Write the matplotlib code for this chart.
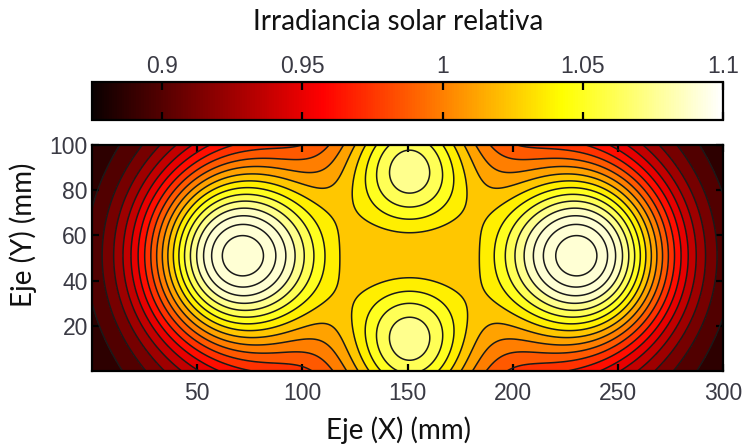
import numpy as np
import matplotlib.pyplot as plt
from matplotlib.colors import Normalize
from matplotlib.cm import ScalarMappable

# gaussian sources on the target plane (mm): four lamps, the inner flanks of
# the side beams, and a shallow dip where the four beams overlap least
src_x = [66.0, 236.0, 151.0, 151.0, 100.0, 202.0, 151.0]
src_y = [51.0, 51.0, 89.0, 13.5, 51.0, 51.0, 51.0]
src_amp = [0.21, 0.21, 0.097, 0.097, 0.012, 0.012, -0.008]
src_sigma = [30.0, 30.0, 22.0, 22.0, 20.0, 20.0, 15.0]

# background shared by all lamps, falling off towards the x edges
base_level = 0.874
plateau_amp = 0.102
plateau_center = 151.0
plateau_width = 60.0

# contour levels and colour scale
contour_levels = np.arange(0.8805, 1.12, 0.0125)
cbar_ticks = [0.9, 0.95, 1.0, 1.05, 1.1]
cbar_labels = ['0.9', '0.95', '1', '1.05', '1.1']
x_ticks = [50, 100, 150, 200, 250, 300]
y_ticks = [20, 40, 60, 80, 100]
vmin, vmax = 0.875, 1.1


def irradiance(x, y):
    field = base_level + plateau_amp * np.exp(-(x - plateau_center) ** 2 / (2 * plateau_width ** 2))
    for xc, yc, a, s in zip(src_x, src_y, src_amp, src_sigma):
        r2 = (x - xc) ** 2 + (y - yc) ** 2
        field = field + a * np.exp(-r2 / (2 * s ** 2))
    return field


def main():
    xx, yy = np.meshgrid(np.linspace(0, 300, 601), np.linspace(0, 100, 201))
    zz = irradiance(xx, yy)

    fig = plt.figure(figsize=(7.45, 4.45), dpi=100)
    ax = fig.add_axes([92 / 745, 1 - 371 / 445, 631 / 745, 226 / 445])
    cax = fig.add_axes([92 / 745, 1 - 120 / 445, 631 / 745, 38 / 445])

    cmap = plt.get_cmap('hot')
    norm = Normalize(vmin=vmin, vmax=vmax)

    # one flat colour per band, taken at the band centre
    step = contour_levels[1] - contour_levels[0]
    fill_levels = np.concatenate([[0.80], contour_levels, [1.2]])
    mids = np.concatenate([[contour_levels[0] - step / 2], contour_levels + step / 2])
    band_colors = [cmap(min(norm(m), 0.955)) for m in mids]
    ax.contourf(xx, yy, zz, levels=fill_levels, colors=band_colors)
    ax.contour(xx, yy, zz, levels=contour_levels, colors='#1a1a1a', linewidths=1.1)

    ax.set_xlim(0, 300)
    ax.set_ylim(0, 100)
    ax.set_xticks(x_ticks)
    ax.set_yticks(y_ticks)
    tick_font = dict(family='Liberation Sans', size=16.5)
    ax.set_xticklabels([str(t) for t in x_ticks], **tick_font)
    ax.set_yticklabels([str(t) for t in y_ticks], **tick_font)
    ax.tick_params(direction='in', length=5, width=1.6, top=True, right=True,
                   colors='black', labelcolor='#3a3a44')
    ax.tick_params(axis='x', pad=8)
    ax.tick_params(axis='y', pad=3)
    for sp in ax.spines.values():
        sp.set_linewidth(1.6)

    cb = fig.colorbar(ScalarMappable(norm=norm, cmap=cmap), cax=cax, orientation='horizontal')
    cb.outline.set_linewidth(1.6)
    cb.set_ticks(cbar_ticks)
    cax.set_xticklabels(cbar_labels, **tick_font)
    cax.tick_params(axis='x', direction='in', length=6, width=1.6, top=True, bottom=True,
                    labeltop=True, labelbottom=False, pad=3, labelcolor='#3a3a44')

    fig.text(398 / 745, 1 - 22 / 445, 'Irradiancia solar relativa', ha='center', va='center',
             family='Lato', size=20, color='#111111')
    fig.text(398 / 745, 1 - 430 / 445, 'Eje (X) (mm)', ha='center', va='center',
             family='Lato', size=20, color='#111111')
    fig.text(23 / 745, 1 - 235 / 445, 'Eje (Y) (mm)', ha='center', va='center', rotation=90,
             family='Lato', size=20, color='#111111')

    fig.savefig('out.png', dpi=100)


if __name__ == '__main__':
    main()
